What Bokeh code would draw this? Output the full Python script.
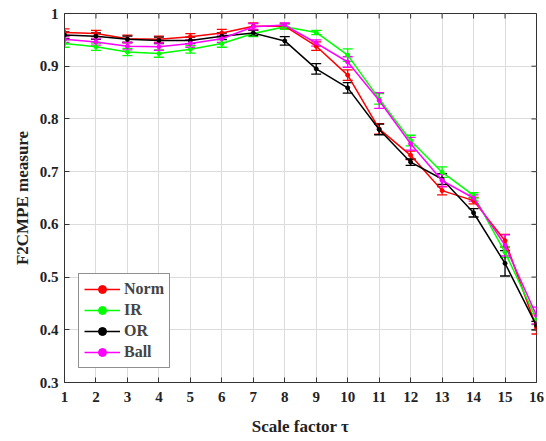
from bokeh.plotting import figure
from bokeh.models import ColumnDataSource, Whisker, TeeHead, Legend, LegendItem, FixedTicker, Range1d
from bokeh.embed import file_html
from bokeh.resources import INLINE

scales = list(range(1, 17))
norm = [0.964, 0.962, 0.952, 0.951, 0.956, 0.963, 0.976, 0.976, 0.938, 0.883, 0.781, 0.731, 0.664, 0.645, 0.569, 0.404]
ir = [0.943, 0.937, 0.927, 0.924, 0.932, 0.943, 0.962, 0.975, 0.964, 0.921, 0.838, 0.759, 0.699, 0.655, 0.547, 0.420]
orr = [0.959, 0.957, 0.951, 0.949, 0.949, 0.957, 0.963, 0.948, 0.895, 0.859, 0.780, 0.718, 0.686, 0.622, 0.526, 0.408]
ball = [0.951, 0.946, 0.938, 0.937, 0.943, 0.952, 0.975, 0.978, 0.944, 0.908, 0.835, 0.753, 0.683, 0.650, 0.560, 0.427]
norm_err = [0.007, 0.006, 0.007, 0.006, 0.006, 0.007, 0.006, 0.005, 0.008, 0.010, 0.010, 0.008, 0.008, 0.006, 0.012, 0.012]
ir_err = [0.007, 0.007, 0.007, 0.007, 0.007, 0.007, 0.006, 0.005, 0.004, 0.012, 0.010, 0.010, 0.010, 0.005, 0.010, 0.010]
orr_err = [0.006, 0.006, 0.006, 0.006, 0.006, 0.006, 0.005, 0.008, 0.010, 0.010, 0.010, 0.006, 0.010, 0.008, 0.024, 0.008]
ball_err = [0.006, 0.006, 0.007, 0.007, 0.007, 0.007, 0.006, 0.004, 0.006, 0.010, 0.015, 0.012, 0.012, 0.006, 0.020, 0.016]
names = ["Norm", "IR", "OR", "Ball"]
colors = ["#ff0000", "#00ff00", "#000000", "#ff00ff"]
y_ticks = [0.3, 0.4, 0.5, 0.6, 0.7, 0.8, 0.9, 1.0]

FONT = "Liberation Serif"
X0, X1, Y0, Y1 = 1, 16, 0.3, 1.0

p = figure(width=546, height=441, output_backend="svg", toolbar_location=None,
           x_range=Range1d(X0, X1), y_range=Range1d(Y0, Y1),
           min_border_left=64, min_border_right=10, min_border_top=13, min_border_bottom=59)
p.outline_line_color = "#333333"
p.outline_line_width = 1
p.background_fill_color = "white"
p.border_fill_color = "white"

for ax in [p.xaxis[0], p.yaxis[0]]:
    ax.major_tick_in = 5
    ax.major_tick_out = 0
    ax.minor_tick_line_color = None
    ax.axis_line_color = "#333333"
    ax.major_tick_line_color = "#333333"
    ax.major_label_text_font = FONT
    ax.major_label_text_font_style = "bold"
    ax.major_label_text_font_size = "15px"
    ax.major_label_text_color = "#222222"
    ax.axis_label_text_font = FONT
    ax.axis_label_text_font_style = "bold"
    ax.axis_label_text_font_size = "17px"
    ax.axis_label_text_color = "#222222"

p.xaxis[0].ticker = FixedTicker(ticks=scales)
p.yaxis[0].ticker = FixedTicker(ticks=y_ticks)
p.xaxis[0].axis_label = "Scale factor τ"
p.yaxis[0].axis_label = "F2CMPE measure"
p.xaxis[0].major_label_standoff = 9
p.xaxis[0].axis_label_standoff = 12
p.yaxis[0].major_label_standoff = 6

p.grid.grid_line_color = "#dcdcdc"
p.grid.grid_line_width = 1
p.xgrid.ticker = FixedTicker(ticks=scales)
p.ygrid.ticker = FixedTicker(ticks=y_ticks)

# inward tick marks on the top and right edges of the box
tx = (X1 - X0) / 472 * 5
ty = (Y1 - Y0) / 369 * 5
p.segment(x0=scales, x1=scales, y0=[Y1] * len(scales), y1=[Y1 - ty] * len(scales),
          line_color="#333333", line_width=1)
p.segment(x0=[X1] * len(y_ticks), x1=[X1 - tx] * len(y_ticks), y0=y_ticks, y1=y_ticks,
          line_color="#333333", line_width=1)

items = []
for name, vals, errs, c in zip(names, [norm, ir, orr, ball], [norm_err, ir_err, orr_err, ball_err], colors):
    src = ColumnDataSource(dict(x=scales, y=vals,
                                lo=[v - e for v, e in zip(vals, errs)],
                                hi=[v + e for v, e in zip(vals, errs)]))
    w = Whisker(source=src, base="x", lower="lo", upper="hi", line_color=c, line_width=1.3,
                upper_head=TeeHead(size=10, line_color=c, line_width=1.3),
                lower_head=TeeHead(size=10, line_color=c, line_width=1.3))
    p.add_layout(w)
    ln = p.line("x", "y", source=src, line_color=c, line_width=1.5)
    sc = p.scatter("x", "y", source=src, size=4, fill_color=c, line_color=c)
    items.append(LegendItem(label=name, renderers=[ln, sc]))

legend = Legend(items=items, location="bottom_left",
                label_text_font=FONT, label_text_font_style="bold", label_text_font_size="16px",
                border_line_color="#222222", border_line_width=1,
                glyph_width=36, glyph_height=20, spacing=1, padding=5, margin=14,
                label_standoff=4, background_fill_alpha=1.0)
p.add_layout(legend)

open("out.html", "w").write(file_html(p, INLINE))
